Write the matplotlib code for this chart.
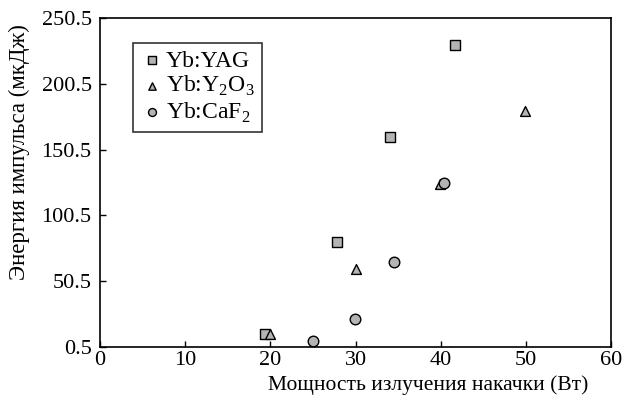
import matplotlib
matplotlib.use("Agg")
import matplotlib.pyplot as plt

plt.rcParams['font.family'] = ['Liberation Serif', 'DejaVu Serif']
plt.rcParams['mathtext.fontset'] = 'custom'
plt.rcParams['mathtext.rm'] = 'Liberation Serif'

yag_x = [19.4, 27.8, 34.0, 41.7]
yag_y = [10, 80, 160, 230]
y2o3_x = [20.0, 30.0, 39.9, 49.9]
y2o3_y = [10, 60, 124, 180]
caf2_x = [25.0, 29.9, 34.5, 40.4]
caf2_y = [5, 21.5, 65, 125]

labels = ['Yb:YAG', r'Yb:Y$_2$O$_3$', r'Yb:CaF$_2$']
xticks = [0, 10, 20, 30, 40, 50, 60]
yticks = [0.5, 50.5, 100.5, 150.5, 200.5, 250.5]

fig = plt.figure(figsize=(6.3, 4.05), dpi=100)
ax = fig.add_axes([100/630, 1 - 347/405, 511/630, (347-18)/405])

fc = '#b4b4b4'
ax.scatter(yag_x, yag_y, marker='s', s=60, facecolor=fc, edgecolor='black', linewidth=1.0, label=labels[0], zorder=3)
ax.scatter(y2o3_x, y2o3_y, marker='^', s=50, facecolor=fc, edgecolor='black', linewidth=1.0, label=labels[1], zorder=3)
ax.scatter(caf2_x, caf2_y, marker='o', s=58, facecolor=fc, edgecolor='black', linewidth=1.0, label=labels[2], zorder=3)

ax.set_xlim(0, 60)
ax.set_ylim(0.5, 250.5)
ax.set_xticks(xticks)
ax.set_yticks(yticks)
ax.set_xticklabels([str(t) for t in xticks])
ax.set_yticklabels([str(t) for t in yticks])
ax.tick_params(direction='in', length=4, width=1, labelsize=16, colors='black')
ax.tick_params(axis='y', pad=6)
ax.tick_params(axis='x', pad=3)
for s in ax.spines.values():
    s.set_linewidth(1.2)

ax.set_xlabel('Мощность излучения накачки (Вт)', fontsize=15.5)
ax.xaxis.set_label_coords((588-100)/511, -0.085)
ax.xaxis.label.set_ha('right')
ax.set_ylabel('Энергия импульса (мкДж)', fontsize=16.5)
ax.yaxis.set_label_coords(-0.137, 0.594)

leg = ax.legend(loc='upper left', bbox_to_anchor=(0.0646, 0.924), fontsize=17, frameon=True,
                fancybox=False, edgecolor='black', handletextpad=0.1, handlelength=1.0,
                borderpad=0.3, labelspacing=0.1, markerscale=0.75, borderaxespad=0)
leg.get_frame().set_linewidth(1.2)

fig.savefig('out.png', dpi=100)
